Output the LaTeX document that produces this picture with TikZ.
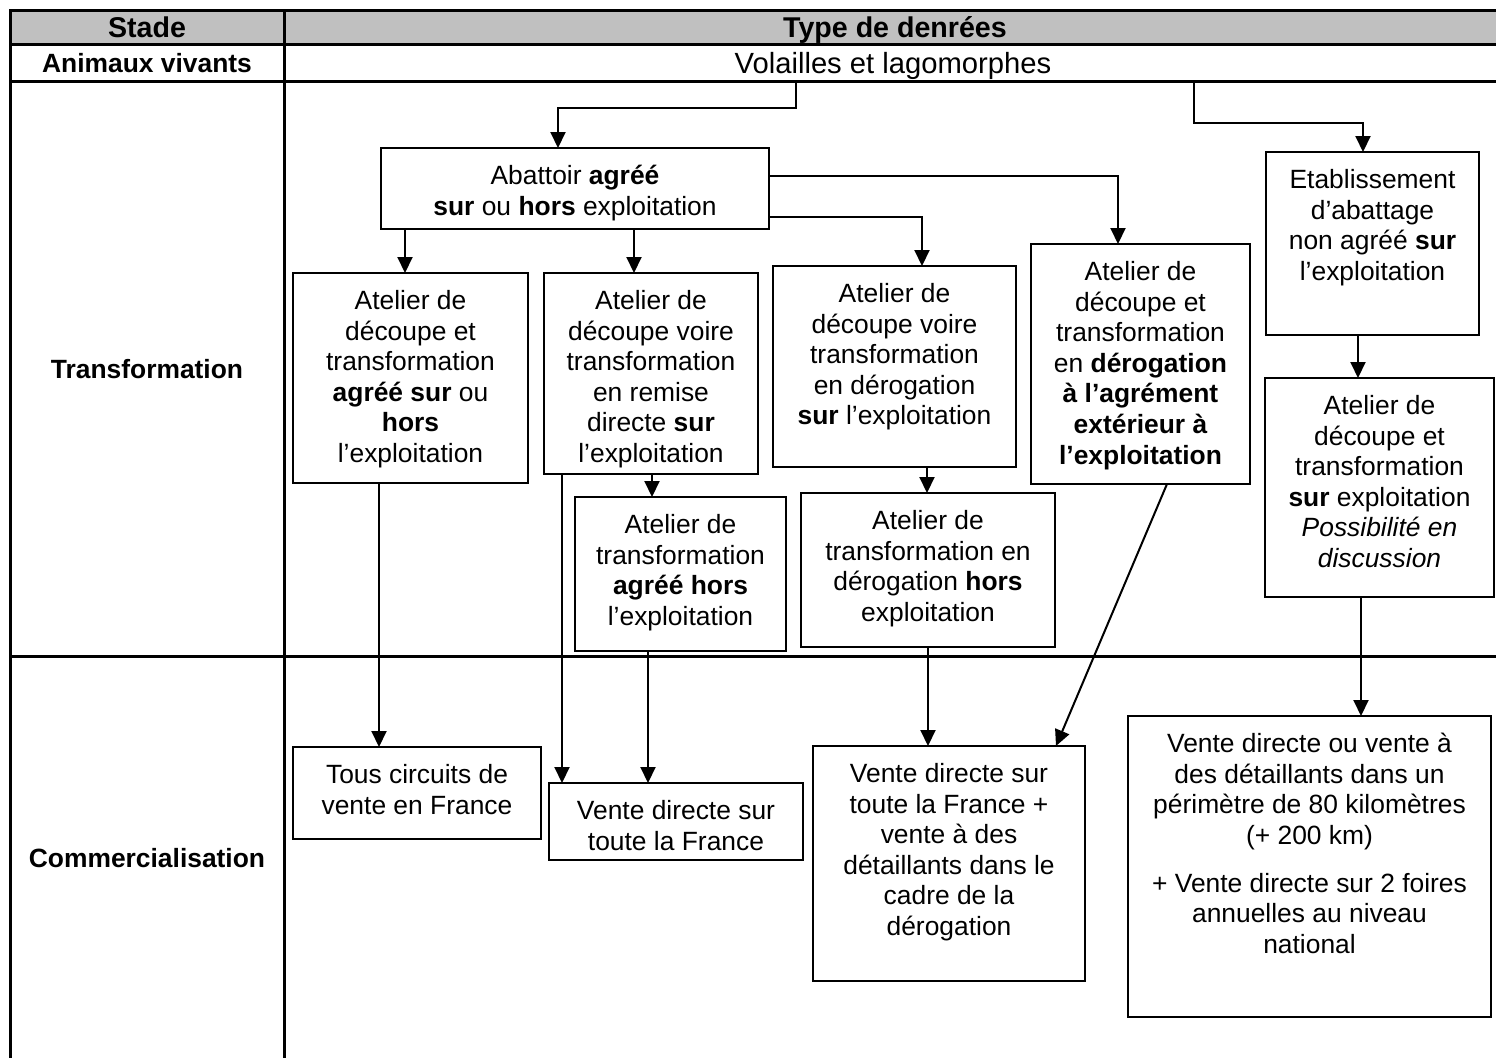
\documentclass[tikz,border=0pt]{standalone}
\usepackage{fontspec}
\setmainfont{Liberation Sans}
\usetikzlibrary{arrows.meta}
\definecolor{hdrgray}{HTML}{C0C0C0}
\newcommand\bx[6]{\node[bx] (#1) at ({(#2+#4)/2},{(#3+#5)/2})
  {\parbox[c][\dimexpr(#5pt-#3pt)/2\relax][t]{\dimexpr(#4pt-#2pt)/2\relax}{\centering\rule{0pt}{18.2pt}#6\par}};}
\begin{document}
\begin{tikzpicture}[x=0.5pt,y=-0.5pt,
  bx/.style={draw,line width=1pt,inner sep=0pt,outer sep=0pt,fill=white,
    font=\fontsize{13.2pt}{15.3pt}\selectfont},
  tbl/.style={line width=1.5pt},
  arr/.style={line width=1pt,-{Triangle[length=8pt,width=7.5pt]}},
  hd/.style={font=\fontsize{14.3pt}{16pt}\selectfont\bfseries,inner sep=0pt},
  stage/.style={font=\fontsize{13.2pt}{15.3pt}\selectfont\bfseries,inner sep=0pt},
  cell/.style={font=\fontsize{14.6pt}{16.5pt}\selectfont,inner sep=0pt}]
\useasboundingbox (0,0) rectangle (1496,1057);
\clip (0,0) rectangle (1496,1057);
% table
\fill[hdrgray] (10,10) rectangle (1497,44);
\draw[tbl] (1497,10) -- (10,10) -- (10,1058);
\draw[tbl] (284,10) -- (284,1058);
\draw[tbl] (10,44) -- (1497,44);
\draw[tbl] (10,81) -- (1497,81);
\draw[tbl] (10,656) -- (1497,656);
% headers
\node[hd,anchor=base] (stade) at (147,37.2) {Stade};
\node[hd,anchor=base] (type) at (895,37.2) {Type de denrées};
\node[stage,anchor=base] (anim) at (147,72.5) {Animaux vivants};
\node[cell,anchor=base] (vol) at (893,73.5) {Volailles et lagomorphes};
\node[stage,anchor=base] (trans) at (147,378.5) {Transformation};
\node[stage,anchor=base] (comm) at (147,867.5) {Commercialisation};
\coordinate (v1) at (796,81);
\coordinate (v2) at (1194,81);
% boxes
\bx{abat}{381}{148}{769}{229}{Abattoir \textbf{agréé}\\ \textbf{sur} ou \textbf{hors} exploitation}
\bx{etab}{1266}{152}{1479}{335}{Etablissement\\ d’abattage\\ non agréé \textbf{sur}\\ l’exploitation}
\bx{a1}{293}{273}{528}{483}{Atelier de\\ découpe et\\ transformation\\ \textbf{agréé sur} ou\\ \textbf{hors}\\ l’exploitation}
\bx{a2}{544}{273}{758}{474}{Atelier de\\ découpe voire\\ transformation\\ en remise\\ directe \textbf{sur}\\ l’exploitation}
\bx{a3}{773}{266}{1016}{467}{Atelier de\\ découpe voire\\ transformation\\ en dérogation\\ \textbf{sur} l’exploitation}
\bx{a4}{1031}{244}{1250}{484}{Atelier de\\ découpe et\\ transformation\\ en \textbf{dérogation}\\ \textbf{à l’agrément}\\ \textbf{extérieur à}\\ \textbf{l’exploitation}}
\bx{a5}{1265}{378}{1494}{597}{Atelier de\\ découpe et\\ transformation\\ \textbf{sur} exploitation\\ \textit{Possibilité en}\\ \textit{discussion}}
\bx{b2}{575}{497}{786}{651}{Atelier de\\ transformation\\ \textbf{agréé hors}\\ l’exploitation}
\bx{b3}{801}{493}{1055}{647}{Atelier de\\ transformation en\\ dérogation \textbf{hors}\\ exploitation}
\bx{c1}{293}{747}{541}{839}{Tous circuits de\\ vente en France}
\bx{c2}{549}{783}{803}{860}{Vente directe sur\\ toute la France}
\bx{c3}{813}{746}{1085}{981}{Vente directe sur\\ toute la France +\\ vente à des\\ détaillants dans le\\ cadre de la\\ dérogation}
\bx{c4}{1128}{716}{1491}{1017}{Vente directe ou vente à\\ des détaillants dans un\\ périmètre de 80 kilomètres\\ (+ 200 km)\\[8.7pt] + Vente directe sur 2 foires\\ annuelles au niveau\\ national}
% connectors
\draw[arr] (v1) |- (558,108) -- (558,0 |- abat.north);
\draw[arr] (v2) |- (1363,123) -- (1363,0 |- etab.north);
\draw[arr] (405,0 |- abat.south) -- (405,0 |- a1.north);
\draw[arr] (634,0 |- abat.south) -- (634,0 |- a2.north);
\draw[arr] (abat.east |- 0,217) -| (922,0 |- a3.north);
\draw[arr] (abat.east |- 0,176) -| (1118,0 |- a4.north);
\draw[arr] (1358,0 |- etab.south) -- (1358,0 |- a5.north);
\draw[arr] (652,0 |- a2.south) -- (652,0 |- b2.north);
\draw[arr] (927,0 |- a3.south) -- (927,0 |- b3.north);
\draw[arr] (379,0 |- a1.south) -- (379,0 |- c1.north);
\draw[arr] (562,0 |- a2.south) -- (562,0 |- c2.north);
\draw[arr] (648,0 |- b2.south) -- (648,0 |- c2.north);
\draw[arr] (928,0 |- b3.south) -- (928,0 |- c3.north);
\draw[arr] (1167,0 |- a4.south) -- (1056,0 |- c3.north);
\draw[arr] (1361,0 |- a5.south) -- (1361,0 |- c4.north);
\end{tikzpicture}
\end{document}
